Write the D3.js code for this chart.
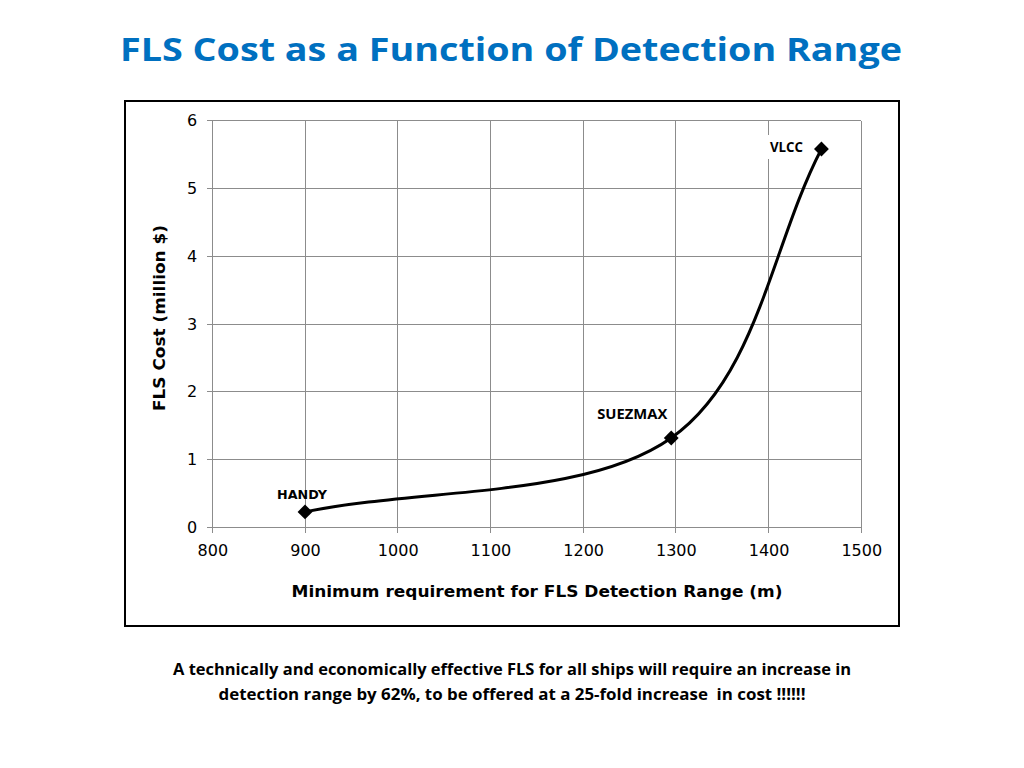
<!DOCTYPE html>
<html><head><meta charset="utf-8">
<script src="https://cdn.jsdelivr.net/npm/d3@7"></script>
<style>body{margin:0;background:#fff;}svg{display:block;}</style>
</head><body>
<script>
const ships = ["HANDY", "SUEZMAX", "VLCC"];
const range = [900, 1295, 1457];
const cost = [0.23, 1.32, 5.58];
const xTicks = [800, 900, 1000, 1100, 1200, 1300, 1400, 1500];
const yTicks = [0, 1, 2, 3, 4, 5, 6];
const title = "FLS Cost as a Function of Detection Range";
const xTitle = "Minimum requirement for FLS Detection Range (m)";
const yTitle = "FLS Cost (million $)";
const note = ["A technically and economically effective FLS for all ships will require an increase in",
              "detection range by 62%, to be offered at a 25-fold increase  in cost !!!!!!"];

const data = ships.map((s, i) => ({ship: s, x: range[i], y: cost[i]}));

const svg = d3.select("body").append("svg").attr("width", 1024).attr("height", 768);

svg.append("text").attr("x", 511).attr("y", 61).attr("text-anchor", "middle")
  .attr("font-family", "'Open Sans', sans-serif").attr("font-weight", "bold")
  .attr("font-size", 31.5).attr("fill", "#0070C0")
  .attr("textLength", 782).attr("lengthAdjust", "spacingAndGlyphs").text(title);

svg.append("rect").attr("x", 125).attr("y", 101).attr("width", 774).attr("height", 525)
  .attr("fill", "none").attr("stroke", "#000").attr("stroke-width", 2);

const x = d3.scaleLinear().domain([800, 1500]).range([212.3, 861.3]);
const y = d3.scaleLinear().domain([0, 6]).range([527.5, 120.5]);

const g = svg.append("g").attr("shape-rendering", "crispEdges");
g.selectAll(".gx").data(xTicks).enter().append("line")
  .attr("x1", d => x(d)).attr("x2", d => x(d)).attr("y1", y(6)).attr("y2", y(0) + 5)
  .attr("stroke", "#8c8c8c").attr("stroke-width", 1);
g.selectAll(".gy").data(yTicks).enter().append("line")
  .attr("x1", x(800) - 5).attr("x2", x(1500)).attr("y1", d => y(d)).attr("y2", d => y(d))
  .attr("stroke", "#8c8c8c").attr("stroke-width", 1);

const xAxis = svg.append("g").attr("transform", `translate(0,${y(0)})`)
  .call(d3.axisBottom(x).tickValues(xTicks).tickSize(0).tickPadding(17).tickFormat(d3.format("d")));
xAxis.select(".domain").remove();
xAxis.selectAll("text").attr("font-family", "'DejaVu Sans', Verdana, sans-serif").attr("font-size", 16).attr("fill", "#000");

const yAxis = svg.append("g").attr("transform", `translate(${x(800)},0)`)
  .call(d3.axisLeft(y).tickValues(yTicks).tickSize(0).tickPadding(15).tickFormat(d3.format("d")));
yAxis.select(".domain").remove();
yAxis.selectAll("text").attr("font-family", "'DejaVu Sans', Verdana, sans-serif").attr("font-size", 16).attr("fill", "#000");

svg.append("text").attr("x", 537).attr("y", 597).attr("text-anchor", "middle")
  .attr("font-family", "'DejaVu Sans', Verdana, sans-serif").attr("font-weight", "bold")
  .attr("font-size", 15).attr("textLength", 491).attr("lengthAdjust", "spacingAndGlyphs").text(xTitle);

svg.append("text").attr("transform", "translate(165,318) rotate(-90)").attr("text-anchor", "middle")
  .attr("font-family", "'DejaVu Sans', Verdana, sans-serif").attr("font-weight", "bold")
  .attr("font-size", 15).attr("textLength", 186).attr("lengthAdjust", "spacingAndGlyphs").text(yTitle);

// smoothed line (Excel-style: reflected end points as hidden control points)
const n = data.length;
const ext = [
  {x: 2 * data[0].x - data[1].x, y: 2 * data[0].y - data[1].y},
  ...data,
  {x: 2 * data[n - 1].x - data[n - 2].x, y: 2 * data[n - 1].y - data[n - 2].y}
];
const line = d3.line().x(d => x(d.x)).y(d => y(d.y)).curve(d3.curveCardinalOpen.tension(0));
svg.append("path").datum(ext).attr("d", line).attr("fill", "none")
  .attr("stroke", "#000").attr("stroke-width", 3).attr("stroke-linejoin", "round");

svg.selectAll(".m").data(data).enter().append("path")
  .attr("transform", d => `translate(${x(d.x)},${y(d.y)}) rotate(45)`)
  .attr("d", d3.symbol().type(d3.symbolSquare).size(110)).attr("fill", "#000");

const lab = [
  {dx: -3, dy: -13, font: "'DejaVu Sans', Verdana, sans-serif", size: 12.5, w: 50},
  {dx: -39, dy: -19, font: "'Open Sans', sans-serif", size: 14.5, w: 70},
  {dx: -35, dy: 3, font: "'Open Sans', sans-serif", size: 14.5, w: 33}
];
data.forEach((d, i) => {
  const L = lab[i];
  const tx = x(d.x) + L.dx, ty = y(d.y) + L.dy;
  if (i === 2) {
    svg.append("rect").attr("x", tx - L.w / 2 - 4).attr("y", ty - 17).attr("width", L.w + 8).attr("height", 24).attr("fill", "#fff");
  }
  svg.append("text").attr("x", tx).attr("y", ty).attr("text-anchor", "middle")
    .attr("font-family", L.font).attr("font-weight", "bold").attr("font-size", L.size)
    .attr("textLength", L.w).attr("lengthAdjust", "spacingAndGlyphs").text(d.ship);
});

const nl = [{y: 675, w: 678}, {y: 700, w: 587}];
note.forEach((t, i) => {
  svg.append("text").attr("x", 512).attr("y", nl[i].y).attr("text-anchor", "middle")
    .attr("font-family", "'Open Sans', sans-serif").attr("font-weight", "bold").attr("font-size", 16.5)
    .style("white-space", "pre")
    .attr("textLength", nl[i].w).attr("lengthAdjust", "spacingAndGlyphs").text(t);
});
</script>
</body></html>
